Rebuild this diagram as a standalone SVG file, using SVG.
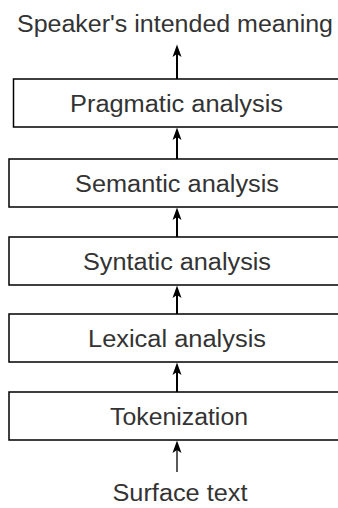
<svg xmlns="http://www.w3.org/2000/svg" width="338" height="508" viewBox="0 0 338 508">
<style>
.box{fill:#fff;stroke:#000;stroke-width:1.5}
.t{font-family:"Liberation Sans",Arial,sans-serif;font-size:23px;fill:#333;text-anchor:middle}
.c{stroke:#000;stroke-width:2;fill:none}
.c1{stroke:#000;stroke-width:1.3;fill:none}
</style>
<defs>
<marker id="ah" markerUnits="userSpaceOnUse" markerWidth="13" markerHeight="10" refX="6" refY="5" orient="auto" viewBox="0 0 13 10">
<path d="M0,0.5 L12.5,5 L0,9.5 L3,5 Z" fill="#000"/>
</marker>
</defs>
<rect width="338" height="508" fill="#fff"/>
<g id="n0"><text class="t" x="175" y="32" textLength="316" lengthAdjust="spacingAndGlyphs">Speaker's intended meaning</text></g>
<g id="n1"><rect class="box" x="13.5" y="79" width="330" height="48"/><text class="t" x="176.5" y="111.5" textLength="213" lengthAdjust="spacingAndGlyphs">Pragmatic analysis</text></g>
<g id="n2"><rect class="box" x="9" y="159" width="340" height="48"/><text class="t" x="177" y="191.5" textLength="204" lengthAdjust="spacingAndGlyphs">Semantic analysis</text></g>
<g id="n3"><rect class="box" x="9" y="237" width="340" height="48"/><text class="t" x="177" y="269.5" textLength="188" lengthAdjust="spacingAndGlyphs">Syntatic analysis</text></g>
<g id="n4"><rect class="box" x="9" y="314" width="340" height="48"/><text class="t" x="177" y="346.5" textLength="178" lengthAdjust="spacingAndGlyphs">Lexical analysis</text></g>
<g id="n5"><rect class="box" x="9" y="392" width="340" height="48"/><text class="t" x="179" y="424.5" textLength="138" lengthAdjust="spacingAndGlyphs">Tokenization</text></g>
<g id="n6"><text class="t" x="180" y="501" textLength="135" lengthAdjust="spacingAndGlyphs">Surface text</text></g>
<g id="connectors">
<line class="c" x1="177" y1="79" x2="177" y2="51" marker-end="url(#ah)"/>
<line class="c" x1="177" y1="159" x2="177" y2="134" marker-end="url(#ah)"/>
<line class="c" x1="177" y1="237" x2="177" y2="214" marker-end="url(#ah)"/>
<line class="c" x1="177" y1="314" x2="177" y2="292" marker-end="url(#ah)"/>
<line class="c" x1="177" y1="392" x2="177" y2="369" marker-end="url(#ah)"/>
<line class="c1" x1="177" y1="472" x2="177" y2="447" marker-end="url(#ah)"/>
</g>
</svg>
